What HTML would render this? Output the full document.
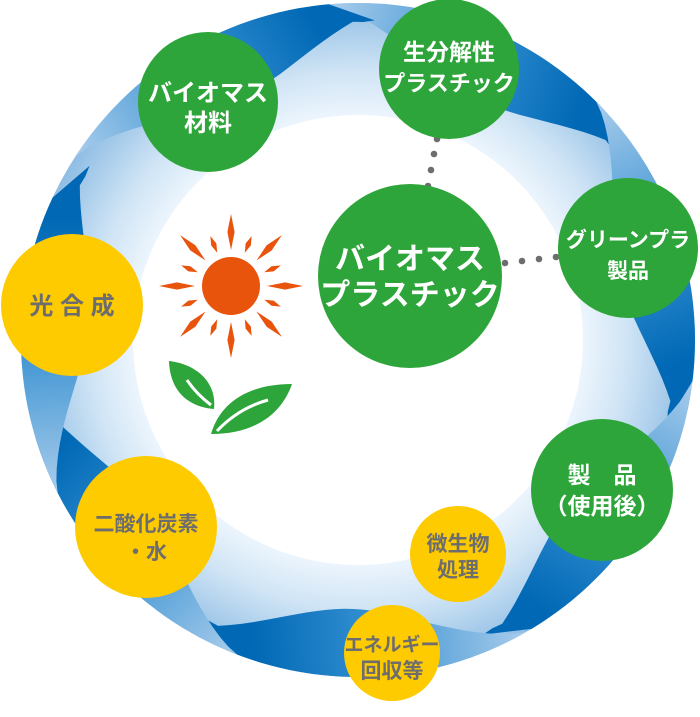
<!DOCTYPE html>
<html><head><meta charset="utf-8"><style>
html,body{margin:0;padding:0;background:#fff}
svg{display:block}
text{font-family:"Liberation Sans","Noto Sans CJK JP",sans-serif;font-weight:bold;text-anchor:middle}
.w{fill:#fff}.g{fill:#6d6d6d}
</style></head><body>
<svg id="s" width="700" height="717" viewBox="0 0 700 717" xmlns="http://www.w3.org/2000/svg">
<defs>
<radialGradient id="rg" gradientUnits="userSpaceOnUse" cx="358" cy="340" r="337">
<stop offset="0.66" stop-color="#eef6fd"/><stop offset="0.8" stop-color="#cfe4f5"/><stop offset="1" stop-color="#8fbde4"/>
</radialGradient>
</defs>
<path d="M21,340a337,337 0 1,0 674,0a337,337 0 1,0 -674,0Z M133,340a225,225 0 1,1 450,0a225,225 0 1,1 -450,0Z" fill="url(#rg)" fill-rule="evenodd"/>
<g id="arrows"></g>
<g id="sun"></g>
<!-- leaves -->
<path d="M169,361 C196,364 217,382 214,409 C189,407 170,392 169,361Z" fill="#2ea53a"/>
<path d="M187,380 C195,392 203,399 211,405" stroke="#fff" stroke-width="3" fill="none"/>
<path d="M211,434 C221,400 252,384 292,384 C282,413 256,434 211,434Z" fill="#2ea53a"/>
<path d="M217,431 C232,415 250,405 268,400" stroke="#fff" stroke-width="3" fill="none"/>
<!-- dots -->
<g fill="#6d6d6d">
<circle cx="437" cy="139" r="3.3"/><circle cx="434" cy="154" r="3.3"/><circle cx="431" cy="170" r="3.3"/><circle cx="428" cy="186" r="3.3"/>
<circle cx="505" cy="263" r="3.3"/><circle cx="522" cy="261" r="3.3"/><circle cx="539" cy="259" r="3.3"/><circle cx="556" cy="257" r="3.3"/>
</g>
<g fill="#2ea53a">
<circle cx="208" cy="102" r="70"/><circle cx="449" cy="69" r="70"/><circle cx="628" cy="248" r="70"/>
<circle cx="410" cy="276" r="92"/><circle cx="602" cy="490" r="71"/>
</g>
<g fill="#fdcb00">
<circle cx="458" cy="554" r="48"/><circle cx="392" cy="653" r="48"/><circle cx="146" cy="527" r="71"/><circle cx="72" cy="305" r="71"/>
</g>
<text class="w" x="208" y="101" font-size="24">バイオマス</text>
<text class="w" x="208" y="131" font-size="24">材料</text>
<text class="w" x="449" y="60" font-size="23">生分解性</text>
<text class="w" x="449" y="91" font-size="22">プラスチック</text>
<text class="w" x="628" y="247" font-size="21">グリーンプラ</text>
<text class="w" x="628" y="278" font-size="21">製品</text>
<text class="w" x="410" y="269" font-size="30">バイオマス</text>
<text class="w" x="410" y="305" font-size="30">プラスチック</text>
<text class="w" x="602" y="483" font-size="23">製　品</text>
<text class="w" x="602" y="514" font-size="23">（使用後）</text>
<text class="g" x="458" y="551" font-size="21">微生物</text>
<text class="g" x="458" y="577" font-size="21">処理</text>
<text class="g" x="392" y="651" font-size="19">エネルギー</text>
<text class="g" x="392" y="678" font-size="21">回収等</text>
<text class="g" x="146" y="531" font-size="21">二酸化炭素</text>
<text class="g" x="146" y="559" font-size="21">・水</text>
<text class="g" x="72" y="314" font-size="24">光 合 成</text>
</svg>
<script>
(function(){
var NS="http://www.w3.org/2000/svg",cx=358,cy=340,R=337;
var defs=document.querySelector('defs'),g=document.getElementById('arrows');
var tips=[-35,15,67,120,171,213,273];
function P(a,r){a=a*Math.PI/180;return [cx+r*Math.cos(a),cy+r*Math.sin(a)];}
tips.forEach(function(t,i){
 var head=t-8,tail=head-52,d="",n=30,k;
 for(k=0;k<=n;k++){var a=tail+(head-tail)*k/n,p=P(a,R);d+=(k?"L":"M")+p[0].toFixed(1)+","+p[1].toFixed(1);}
 var tp=P(t,320);d+="L"+tp[0].toFixed(1)+","+tp[1].toFixed(1);
 for(k=n;k>=0;k--){var u=k/n,a=tail+(t-2-tail)*u,r=R-68*Math.pow(Math.sin(Math.PI*u*0.92),1.2);if(k==n)r=318;var p=P(a,r);d+="L"+p[0].toFixed(1)+","+p[1].toFixed(1);}
 d+="Z";
 var lg=document.createElementNS(NS,'linearGradient');lg.setAttribute('id','ag'+i);lg.setAttribute('gradientUnits','userSpaceOnUse');
 var a0=P(tail,R),a1=P(head-4,R);
 lg.setAttribute('x1',a0[0]);lg.setAttribute('y1',a0[1]);lg.setAttribute('x2',a1[0]);lg.setAttribute('y2',a1[1]);
 lg.innerHTML='<stop offset="0" stop-color="#a9cdec"/><stop offset="0.6" stop-color="#2f8ccf"/><stop offset="1" stop-color="#0068b5"/>';
 defs.appendChild(lg);
 var pa=document.createElementNS(NS,'path');pa.setAttribute('d',d);pa.setAttribute('fill','url(#ag'+i+')');g.appendChild(pa);
});
var s=document.getElementById('sun'),h='<circle cx="231" cy="286" r="29" fill="#e9540d"/>';
for(var j=0;j<16;j++){var a=j*22.5-90,L=(j%2==0)?72:54,r0=36,w=(j%2==0)?3.6:2.8;
 var ar=a*Math.PI/180,px=-Math.sin(ar),py=Math.cos(ar);
 var x0=231+r0*Math.cos(ar),y0=286+r0*Math.sin(ar),x1=231+L*Math.cos(ar),y1=286+L*Math.sin(ar);
 var xm=231+(r0+L)/2*Math.cos(ar),ym=286+(r0+L)/2*Math.sin(ar);
 h+='<path d="M'+x0+','+y0+'L'+(xm+px*w)+','+(ym+py*w)+'L'+x1+','+y1+'L'+(xm-px*w)+','+(ym-py*w)+'Z" fill="#e9540d"/>';}
s.innerHTML=h;
})();
</script>
</body></html>
